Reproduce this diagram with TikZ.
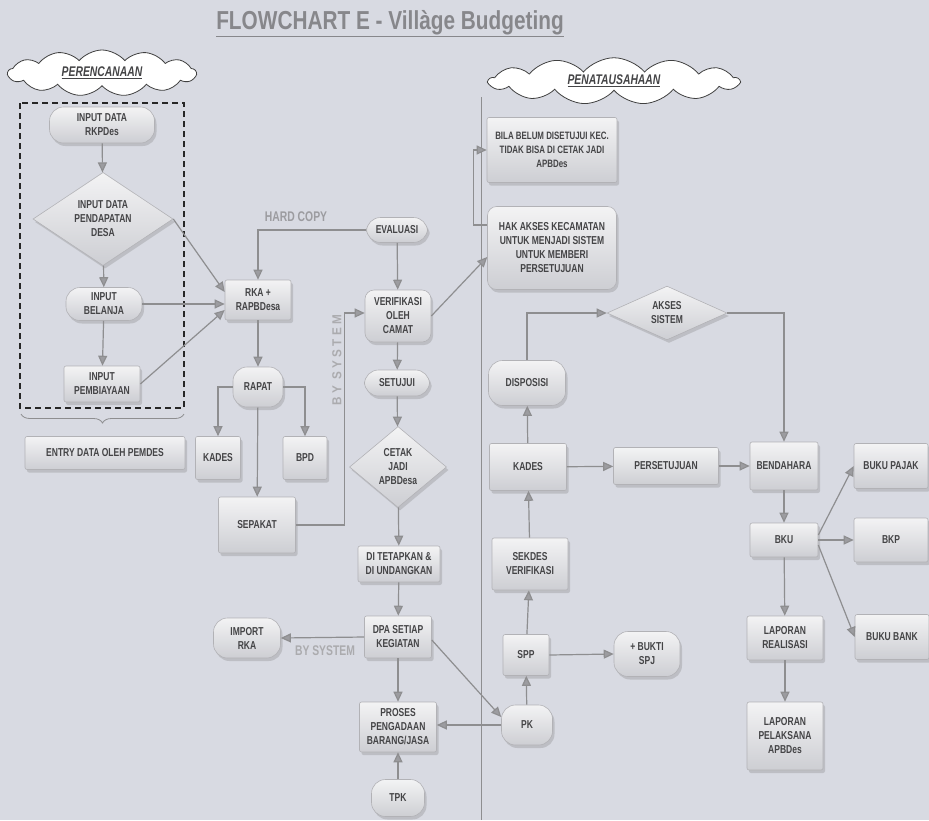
\documentclass[tikz,border=0pt]{standalone}
\usepackage{fontspec}
\setmainfont{Liberation Sans}[FakeStretch=0.74]
\newfontfamily\titlefont{Liberation Sans}[FakeStretch=0.8]
\newfontfamily\spacedfont{Liberation Sans}[FakeStretch=0.9,LetterSpace=25]
\usetikzlibrary{shapes.geometric,shapes.symbols,shadows,arrows.meta,decorations.pathreplacing,calc}

\definecolor{paper}{HTML}{D8DAE2}
\definecolor{ink}{HTML}{444446}
\definecolor{wire}{HTML}{8E8E90}
\definecolor{edge}{HTML}{B2B2B6}
\definecolor{boxtop}{HTML}{F3F3F4}
\definecolor{boxbot}{HTML}{CDCED3}
\definecolor{faint}{HTML}{9C9CA0}
\definecolor{titleink}{HTML}{87878B}

\tikzset{
  base/.style={draw=edge, line width=0.6pt, top color=boxtop, bottom color=boxbot,
    text=ink, font=\bfseries\fontsize{11.5}{14}\selectfont, align=center,
    inner sep=2pt,
    drop shadow={shadow xshift=2pt, shadow yshift=-3pt, opacity=0.3}},
  box/.style={base, rectangle, rounded corners=2pt},
  pill/.style={base, rectangle, rounded corners=14pt},
  soft/.style={base, rectangle, rounded corners=9pt},
  dia/.style={base, diamond, inner sep=0pt},
  sz/.style 2 args={minimum width=#1pt, minimum height=#2pt},
  arr/.style={draw=wire, line width=1.2pt, -{Triangle[length=10pt,width=9pt,fill=faint]}},
  cloudy/.style={cloud, cloud puffs=13, cloud puff arc=100, aspect=4,
    draw=black!75, fill=white, line width=0.8pt, inner sep=0pt, text=ink,
    font=\bfseries\itshape\fontsize{14}{16}\selectfont},
  tag/.style={text=faint, font=\bfseries\fontsize{14}{16}\selectfont},
}

\begin{document}
\begin{tikzpicture}[x=1pt,y=-1pt]
\fill[paper] (0,0) rectangle (929,820);
\useasboundingbox (0,0) rectangle (929,820);

% title and section clouds
\node[text=titleink, font=\titlefont\bfseries\fontsize{26}{28}\selectfont] (title) at (390,24) {\underline{FLOWCHART E - Villàge Budgeting}};
\node[cloudy, sz={188}{46}] (plan) at (102,73) {\underline{PERENCANAAN}};
\node[cloudy, sz={250}{33}] (admin) at (614,81) {\underline{PENATAUSAHAAN}};

% page divider
\draw[wire, line width=0.7pt] (481,97) -- (481,820);

% data entry group
\draw[black!85, line width=1.6pt, dash pattern=on 6pt off 4pt] (20,103) rectangle (184,408);
\draw[wire, line width=0.8pt, decorate, decoration={brace, amplitude=9pt}] (184,414) -- (21,414);

% planning nodes
\node[pill, sz={105}{36}] (rkp) at (102,125) {INPUT DATA\\RKPDes};
\node[dia, sz={140}{78}] (pend) at (103,219) {INPUT DATA\\PENDAPATAN\\DESA};
\node[pill, sz={76}{33}] (bel) at (104,304) {INPUT\\BELANJA};
\node[box, sz={76}{36}] (bia) at (102,384) {INPUT\\PEMBIAYAAN};
\node[box, sz={160}{33}] (entry) at (105,453) {ENTRY DATA OLEH PEMDES};

\node[box, sz={66}{40}] (rka) at (258,300) {RKA +\\RAPBDesa};
\node[pill, sz={50}{40}] (rapat) at (258,387) {RAPAT};
\node[box, sz={45}{43}] (kadesa) at (218,458) {KADES};
\node[box, sz={44}{43}] (bpd) at (305,458) {BPD};
\node[box, sz={77}{56}] (sepakat) at (257,525) {SEPAKAT};

\node[pill, sz={61}{25}] (eval) at (397,230) {EVALUASI};
\node[soft, sz={66}{52}] (verif) at (398,316) {VERIFIKASI\\OLEH\\CAMAT};
\node[pill, sz={65}{26}] (setuju) at (397,383) {SETUJUI};
\node[dia, sz={97}{81}] (cetak) at (398,467) {CETAK\\JADI\\APBDesa};
\node[box, sz={82}{36}] (tetap) at (399,564) {DI TETAPKAN \&\\DI UNDANGKAN};
\node[box, sz={67}{42}] (dpa) at (398,637) {DPA SETIAP\\KEGIATAN};
\node[pill, sz={67}{40}] (imp) at (247,638) {IMPORT\\RKA};
\node[box, sz={77}{50}] (proses) at (398,727) {PROSES\\PENGADAAN\\BARANG/JASA};
\node[pill, sz={53}{37}] (tpk) at (398,798) {TPK};

% administration nodes
\node[box, sz={130}{65}, font=\bfseries\fontsize{10.7}{14}\selectfont] (bila) at (552,150) {BILA BELUM DISETUJUI KEC.\\TIDAK BISA DI CETAK JADI\\APBDes};
\node[soft, sz={129}{83}] (hak) at (552,248) {HAK AKSES KECAMATAN\\UNTUK MENJADI SISTEM\\UNTUK MEMBERI\\PERSETUJUAN};
\node[dia, sz={120}{53}] (akses) at (667,313) {AKSES\\SISTEM};
\node[pill, sz={77}{45}] (dispo) at (527,383) {DISPOSISI};
\node[box, sz={77}{47}] (kadesb) at (528,467) {KADES};
\node[box, sz={76}{52}] (sekdes) at (530,564) {SEKDES\\VERIFIKASI};
\node[box, sz={46}{41}] (spp) at (526,655) {SPP};
\node[pill, sz={51}{40}] (pk) at (527,725) {PK};
\node[pill, sz={66}{45}] (bukti) at (647,654) {+ BUKTI\\SPJ};
\node[box, sz={105}{37}] (persetujuan) at (666,466) {PERSETUJUAN};
\node[box, sz={68}{48}] (bend) at (784,466) {BENDAHARA};
\node[box, sz={68}{34}] (bku) at (784,540) {BKU};
\node[box, sz={74}{45}] (pajak) at (891,466) {BUKU PAJAK};
\node[box, sz={74}{44}] (bkp) at (891,540) {BKP};
\node[box, sz={74}{45}] (bank) at (892,637) {BUKU BANK};
\node[box, sz={76}{44}] (lapr) at (785,638) {LAPORAN\\REALISASI};
\node[box, sz={76}{68}] (lapp) at (785,736) {LAPORAN\\PELAKSANA\\APBDes};

% connector labels
\node[tag] (hard) at (296,217) {HARD COPY};
\node[tag, text=faint!85!white, rotate=90, font=\spacedfont\bfseries\fontsize{13}{15}\selectfont] (bysysv) at (337,360) {BY SYSTEM};
\node[tag, text=faint!85!white] (bysysh) at (325,651) {BY SYSTEM};

% planning flow
\draw[arr] (rkp) -- (pend);
\draw[arr] (pend) -- (bel);
\draw[arr] (bel) -- (bia);
\draw[arr] (pend.east) -- ([yshift=8pt]rka.west);
\draw[arr] (bel.east) -- (bel.east -| rka.west);
\draw[arr] (bia.east) -- ([yshift=-10pt]rka.west);
\draw[arr] (eval.west) -| (rka.north);
\draw[arr] (rka) -- (rapat);
\draw[arr] (rapat.west) -| (kadesa.north);
\draw[arr] (rapat.east) -| (bpd.north);
\draw[arr] (rapat) -- (sepakat);
\draw[arr] (sepakat.east) -- ++(49,0) |- ([yshift=3pt]verif.west);
\draw[arr] (eval) -- (verif);
\draw[arr] (verif) -- (setuju);
\draw[arr] (setuju) -- (cetak);
\draw[arr] (cetak) -- (tetap);
\draw[arr] (tetap) -- (dpa);
\draw[arr] (dpa) -- (proses);
\draw[arr] (tpk) -- (proses);
\draw[arr] (dpa.west) -- (imp.east);
\draw[arr] (pk.west) -- (pk.west -| proses.east);
\draw[arr] ([yshift=-3pt]dpa.east) -- ([yshift=8pt]pk.west);

% administration flow
\draw[arr] (verif.east) -- ([yshift=-9pt]hak.west);
\draw[arr] ([yshift=23pt]hak.west) -- ++(-14,0) |- (bila.west);
\draw[arr] (pk) -- (spp);
\draw[arr] (spp) -- (sekdes);
\draw[arr] (sekdes) -- (kadesb);
\draw[arr] (kadesb) -- (dispo);
\draw[arr] (spp.east) -- (bukti.west);
\draw[arr] (dispo.north) |- (akses.west);
\draw[arr] (akses.east) -| (bend.north);
\draw[arr] (kadesb) -- (persetujuan);
\draw[arr] (persetujuan) -- (bend);
\draw[arr] (bend) -- (bku);
\draw[arr] ([yshift=5pt]bku.east) -- (pajak.west);
\draw[arr] (bku.east) -- (bkp.west);
\draw[arr] ([yshift=-5pt]bku.east) -- (bank.west);
\draw[arr] (bku) -- (lapr);
\draw[arr] (lapr) -- (lapp);
\end{tikzpicture}
\end{document}
